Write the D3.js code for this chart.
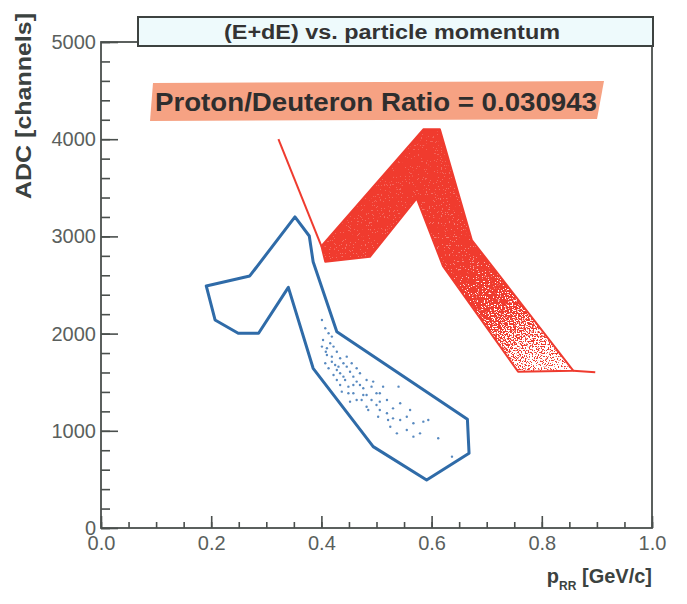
<!DOCTYPE html>
<html>
<head>
<meta charset="utf-8">
<script src="https://cdn.jsdelivr.net/npm/d3@7"></script>
<style>
  html, body { margin: 0; padding: 0; background: #fff; }
  svg { display: block; font-family: "Liberation Sans", Arial, sans-serif; }
</style>
</head>
<body>
<svg id="chart" width="687" height="604"></svg>
<script>
// Axis ranges and tick values
const xDomain = [0, 1];
const yDomain = [0, 5000];
const xMajorTicks = [0, 0.2, 0.4, 0.6, 0.8, 1.0];
const xMinorTicks = d3.range(0, 1.0001, 0.05);
const yMajorTicks = [0, 1000, 2000, 3000, 4000, 5000];
const yMinorTicks = d3.range(0, 5001, 200);

// Texts
const titleText = "(E+dE) vs. particle momentum";
const ratioText = "Proton/Deuteron Ratio = 0.030943";
const yLabel = "ADC [channels]";

// Deuteron selection cut (red), momentum [GeV/c] vs ADC
const deuteronCut = [
  [0.400, 2900], [0.407, 2740], [0.488, 2790], [0.573, 3390],
  [0.621, 2690], [0.757, 1608], [0.857, 1618], [0.673, 2963],
  [0.615, 4102], [0.585, 4102]
];
// open cut-line segments attached to the red cut
const deuteronLead = [[0.322, 4000], [0.400, 2900]];
const deuteronTail = [[0.857, 1618], [0.897, 1602]];

// Proton selection cut (blue)
const protonCut = [
  [0.191, 2490], [0.270, 2593], [0.352, 3200], [0.378, 3004],
  [0.385, 2740], [0.428, 2020], [0.665, 1118], [0.668, 768],
  [0.591, 494], [0.494, 837], [0.385, 1643], [0.340, 2476],
  [0.286, 2003], [0.249, 2003], [0.207, 2140]
];

// Proton candidate events
const protonEvents = [
  [0.401,2140],[0.407,2055],[0.413,2003],[0.403,1934],[0.416,1900],[0.410,1849],
  [0.422,1866],[0.428,1814],[0.419,1763],[0.434,1746],[0.407,1695],[0.425,1677],
  [0.440,1695],[0.446,1660],[0.428,1626],[0.434,1592],[0.452,1608],[0.458,1557],
  [0.443,1523],[0.464,1506],[0.470,1471],[0.449,1454],[0.476,1437],[0.428,1523],
  [0.437,1403],[0.458,1386],[0.482,1368],[0.473,1317],[0.491,1317],[0.500,1266],
  [0.452,1300],[0.506,1214],[0.519,1180],[0.485,1214],[0.530,1128],[0.543,1111],
  [0.561,1214],[0.567,1077],[0.585,1094],[0.594,1111],[0.555,1008],[0.525,1042],
  [0.579,974],[0.612,923],[0.637,734],[0.506,1386],[0.512,1454],[0.494,1506],
  [0.540,1454],[0.410,1780],[0.419,1969],[0.431,1660],[0.446,1763],[0.455,1695],
  [0.464,1643],[0.470,1592],[0.482,1523],[0.491,1454],[0.500,1386],[0.519,1317],
  [0.543,1283],[0.521,1111],[0.567,940],[0.537,974],[0.503,1145],[0.482,1248],
  [0.464,1317],[0.449,1386],[0.434,1471],[0.422,1574],[0.413,1643],[0.401,1866],
  [0.408,1814],[0.419,1711],[0.440,1557],[0.458,1471],[0.476,1368],[0.506,1300],
  [0.530,1231],[0.555,1145]
];

const W = 687, H = 604;
const margin = { left: 101, right: 35, top: 42, bottom: 76 };
const svg = d3.select("#chart");
const axisColor = "#4a4f4d";

const x = d3.scaleLinear().domain(xDomain).range([margin.left, W - margin.right]);
const y = d3.scaleLinear().domain(yDomain).range([H - margin.bottom, margin.top]);

const defs = svg.append("defs");

// density of the deuteron band falls off towards high momentum
const grad = defs.append("linearGradient")
  .attr("id", "deuteronDensity")
  .attr("gradientUnits", "userSpaceOnUse")
  .attr("x1", x(0.58)).attr("y1", y(3700))
  .attr("x2", x(0.80)).attr("y2", y(1650));
[[0, 1], [0.45, 0.97], [0.65, 0.8], [0.85, 0.5], [1, 0.32]].forEach(([o, a]) =>
  grad.append("stop").attr("offset", o).attr("stop-color", "#000").attr("stop-opacity", a));

// speckled rendering of a dense event cloud
const f = defs.append("filter").attr("id", "speckle")
  .attr("color-interpolation-filters", "sRGB")
  .attr("x", "-5%").attr("y", "-5%").attr("width", "110%").attr("height", "110%");
f.append("feTurbulence").attr("type", "fractalNoise").attr("baseFrequency", 0.75)
  .attr("numOctaves", 2).attr("seed", 7).attr("result", "noise");
f.append("feColorMatrix").attr("in", "noise").attr("type", "matrix")
  .attr("values", "0 0 0 0 0  0 0 0 0 0  0 0 0 0 0  2.6 0 0 0 -0.8").attr("result", "nA");
f.append("feColorMatrix").attr("in", "SourceGraphic").attr("type", "matrix")
  .attr("values", "0 0 0 0 0  0 0 0 0 0  0 0 0 0 0  0 0 0 1 0").attr("result", "dA");
f.append("feComposite").attr("in", "dA").attr("in2", "nA").attr("operator", "arithmetic")
  .attr("k1", 0).attr("k2", 6.8).attr("k3", -6).attr("k4", 0).attr("result", "mask");
f.append("feFlood").attr("flood-color", "#f03b2e").attr("result", "red");
f.append("feComposite").attr("in", "red").attr("in2", "mask").attr("operator", "in");

// ---- axes (ticks drawn inside the frame) ----
const yAxisMinor = d3.axisLeft(y).tickValues(yMinorTicks).tickSize(-9).tickFormat("");
const yAxisMajor = d3.axisLeft(y).tickValues(yMajorTicks).tickSize(-17).tickPadding(5)
  .tickFormat(d3.format("d"));
const xAxisMinor = d3.axisBottom(x).tickValues(xMinorTicks).tickSize(-6).tickFormat("");
const xAxisMajor = d3.axisBottom(x).tickValues(xMajorTicks).tickSize(-12).tickPadding(8)
  .tickFormat(d3.format(".1f"));

function styleAxis(g) {
  g.select(".domain").remove();
  g.selectAll(".tick line").attr("stroke", axisColor).attr("stroke-width", 1.6);
  g.selectAll(".tick text").attr("fill", "#5a5f5d").style("font-size", "20px")
    .style("font-family", "'Liberation Sans', Arial, sans-serif");
}

svg.append("g").attr("transform", `translate(${margin.left},0)`).call(yAxisMinor).call(styleAxis);
svg.append("g").attr("transform", `translate(${margin.left},0)`).call(yAxisMajor).call(styleAxis);
svg.append("g").attr("transform", `translate(0,${H - margin.bottom})`).call(xAxisMinor).call(styleAxis);
svg.append("g").attr("transform", `translate(0,${H - margin.bottom})`).call(xAxisMajor).call(styleAxis);

// frame
svg.append("rect")
  .attr("x", x(0)).attr("y", y(5000))
  .attr("width", x(1) - x(0)).attr("height", y(0) - y(5000))
  .attr("fill", "none").attr("stroke", axisColor).attr("stroke-width", 1.8);

// ---- deuteron cloud and cut ----
const line = d3.line().x(d => x(d[0])).y(d => y(d[1]));
const closed = d3.line().x(d => x(d[0])).y(d => y(d[1])).curve(d3.curveLinearClosed);

svg.append("path").attr("d", closed(deuteronCut))
  .attr("fill", "url(#deuteronDensity)").attr("filter", "url(#speckle)");
svg.append("path").attr("d", closed(deuteronCut))
  .attr("fill", "none").attr("stroke", "#ef3b2f").attr("stroke-width", 2).attr("stroke-linejoin", "round");
[deuteronLead, deuteronTail].forEach(seg =>
  svg.append("path").attr("d", line(seg)).attr("fill", "none")
    .attr("stroke", "#ef3b2f").attr("stroke-width", 2));

// ---- proton events and cut ----
svg.append("g").selectAll("circle").data(protonEvents).join("circle")
  .attr("cx", d => x(d[0])).attr("cy", d => y(d[1])).attr("r", 1.2)
  .attr("fill", "#2f6db0").attr("opacity", 0.8);
svg.append("path").attr("d", closed(protonCut))
  .attr("fill", "none").attr("stroke", "#2f6ba8").attr("stroke-width", 3).attr("stroke-linejoin", "round");

// ---- title box ----
svg.append("rect").attr("x", 138).attr("y", 17).attr("width", 515).attr("height", 29)
  .attr("fill", "#eefafc").attr("stroke", "#3d4240").attr("stroke-width", 2);
svg.append("text").attr("x", 392).attr("y", 38.5).attr("text-anchor", "middle")
  .attr("fill", "#333").style("font-size", "20px").style("font-weight", "bold")
  .attr("textLength", 336).attr("lengthAdjust", "spacingAndGlyphs")
  .text(titleText);

// ---- ratio annotation ----
svg.append("path")
  .attr("d", "M153,83 L604,81 L597,119 L150,121 Z")
  .attr("fill", "#f6a283");
svg.append("text").attr("x", 155).attr("y", 111)
  .attr("fill", "#2e2e2e").style("font-size", "26px").style("font-weight", "bold")
  .attr("textLength", 442).attr("lengthAdjust", "spacingAndGlyphs")
  .text(ratioText);

// ---- axis titles ----
svg.append("text")
  .attr("transform", `translate(31,${106}) rotate(-90)`)
  .attr("text-anchor", "middle").attr("fill", "#3b4240")
  .style("font-size", "22px").style("font-weight", "bold")
  .attr("textLength", 186).attr("lengthAdjust", "spacingAndGlyphs")
  .text(yLabel);

const xl = svg.append("text").attr("x", 652).attr("y", 583).attr("text-anchor", "end")
  .attr("fill", "#3b4240").style("font-size", "20px").style("font-weight", "bold");
xl.append("tspan").text("p");
xl.append("tspan").attr("dy", 7).style("font-size", "12px").text("RR");
xl.append("tspan").attr("dy", -7).text(" [GeV/c]");
</script>
</body>
</html>
